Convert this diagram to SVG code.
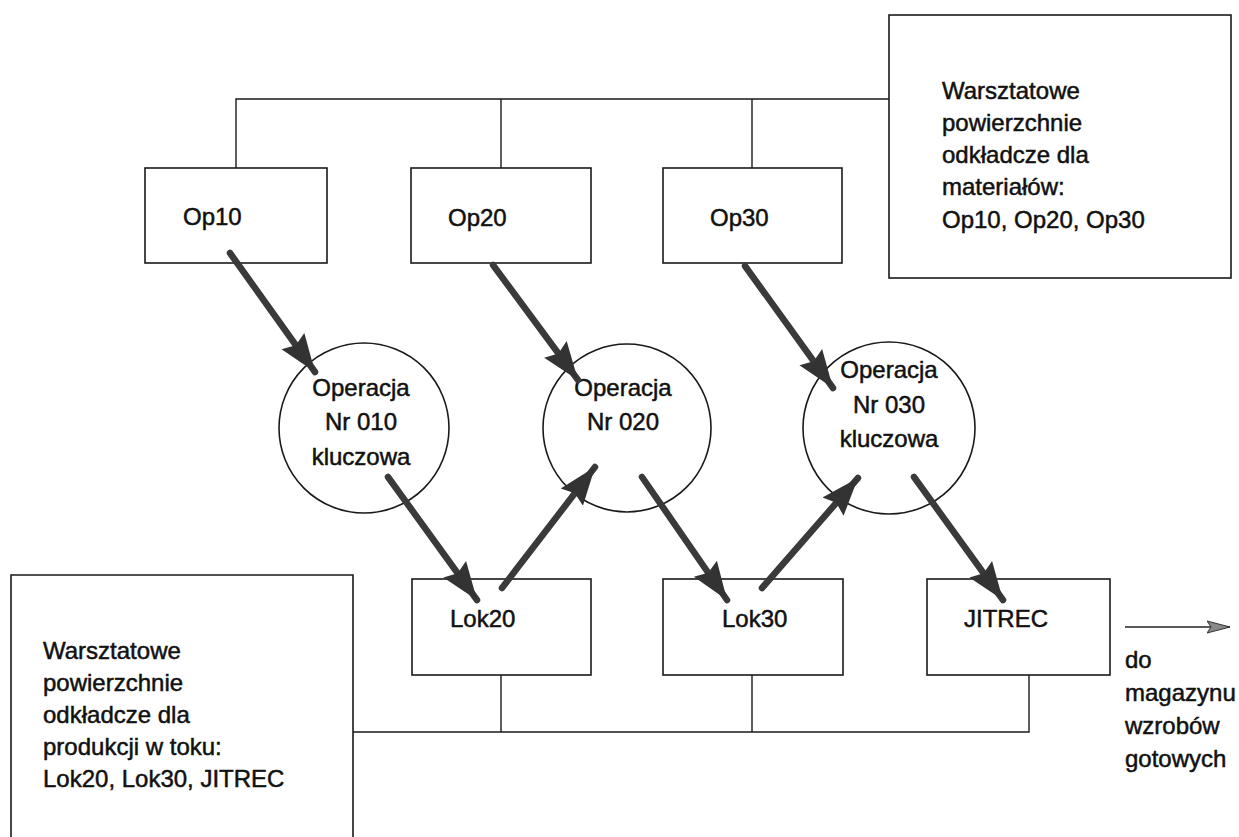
<svg xmlns="http://www.w3.org/2000/svg" width="1239" height="837" viewBox="0 0 1239 837">
<style>
.box{fill:#fff;stroke:#1a1a1a;stroke-width:1.6}
.circ{fill:none;stroke:#1a1a1a;stroke-width:1.6}
.ln{fill:none;stroke:#1a1a1a;stroke-width:1.4}
.thick{fill:none;stroke:#3a3a3a;stroke-width:6.5;stroke-linecap:round}
text{font-family:"Liberation Sans",Arial,sans-serif;font-size:24px;fill:#111;stroke:#111;stroke-width:0.5}
.c{text-anchor:middle}
</style>
<defs>
<marker id="ah" markerUnits="userSpaceOnUse" markerWidth="40" markerHeight="32" refX="38" refY="16" orient="auto">
<path d="M0,2 L38,16 L0,30 L5,16 Z" fill="#333"/>
</marker>
<marker id="ah2" markerUnits="userSpaceOnUse" markerWidth="24" markerHeight="14" refX="23" refY="7" orient="auto">
<path d="M0,1 L23,7 L0,13 L4,7 Z" fill="#888" stroke="#333" stroke-width="1"/>
</marker>
</defs>
<rect width="1239" height="837" fill="#fff"/>
<g id="op10"><rect class="box" x="145" y="168" width="182" height="95"/><text x="183" y="225">Op10</text></g>
<g id="op20"><rect class="box" x="411" y="168" width="180" height="95"/><text x="448" y="226">Op20</text></g>
<g id="op30"><rect class="box" x="663" y="168" width="179" height="95"/><text x="710" y="226">Op30</text></g>
<g id="legend-top"><rect class="box" x="889" y="15" width="342" height="263"/>
<text x="942" y="99">Warsztatowe</text>
<text x="942" y="131">powierzchnie</text>
<text x="942" y="163">odkładcze dla</text>
<text x="942" y="195">materiałów:</text>
<text x="942" y="228">Op10, Op20, Op30</text></g>
<g id="op010"><circle class="circ" cx="364" cy="428" r="85"/>
<text class="c" x="361" y="396">Operacja</text><text class="c" x="361" y="430">Nr 010</text><text class="c" x="361" y="465">kluczowa</text></g>
<g id="op020"><circle class="circ" cx="627" cy="428" r="84"/>
<text class="c" x="623" y="396">Operacja</text><text class="c" x="623" y="430">Nr 020</text></g>
<g id="op030"><circle class="circ" cx="889" cy="428" r="86"/>
<text class="c" x="889" y="378">Operacja</text><text class="c" x="889" y="413">Nr 030</text><text class="c" x="889" y="447">kluczowa</text></g>
<g id="lok20"><rect class="box" x="412" y="579" width="179" height="96"/><text x="450" y="627">Lok20</text></g>
<g id="lok30"><rect class="box" x="663" y="579" width="180" height="96"/><text x="722" y="627">Lok30</text></g>
<g id="jitrec"><rect class="box" x="927" y="579" width="183" height="96"/><text x="964" y="627">JITREC</text></g>
<g id="legend-bottom"><polyline class="box" points="11,840 11,575 353,575 353,840"/>
<text x="43" y="659">Warsztatowe</text>
<text x="43" y="691">powierzchnie</text>
<text x="43" y="723">odkładcze dla</text>
<text x="43" y="755">produkcji w  toku:</text>
<text x="43" y="787">Lok20, Lok30, JITREC</text></g>
<g id="out-label">
<text x="1125" y="668">do</text>
<text x="1125" y="701">magazynu</text>
<text x="1125" y="734">wzrobów</text>
<text x="1125" y="767">gotowych</text></g>
<g id="connectors">
<polyline class="ln" points="236,168 236,99 889,99"/>
<line class="ln" x1="501" y1="99" x2="501" y2="168"/>
<line class="ln" x1="752" y1="99" x2="752" y2="168"/>
<polyline class="ln" points="353,732 1029,732 1029,675"/>
<line class="ln" x1="501" y1="675" x2="501" y2="732"/>
<line class="ln" x1="752" y1="675" x2="752" y2="732"/>
<line class="thick" x1="230" y1="253" x2="315" y2="372" marker-end="url(#ah)"/>
<line class="thick" x1="493" y1="265" x2="578" y2="380" marker-end="url(#ah)"/>
<line class="thick" x1="745" y1="266" x2="833" y2="388" marker-end="url(#ah)"/>
<line class="thick" x1="388" y1="477" x2="477" y2="600" marker-end="url(#ah)"/>
<line class="thick" x1="502" y1="588" x2="595" y2="467" marker-end="url(#ah)"/>
<line class="thick" x1="642" y1="477" x2="727" y2="600" marker-end="url(#ah)"/>
<line class="thick" x1="762" y1="588" x2="858" y2="478" marker-end="url(#ah)"/>
<line class="thick" x1="914" y1="477" x2="1003" y2="600" marker-end="url(#ah)"/>
<line x1="1125" y1="627" x2="1230" y2="627" stroke="#222" stroke-width="1.4" marker-end="url(#ah2)"/>
</g>
</svg>
